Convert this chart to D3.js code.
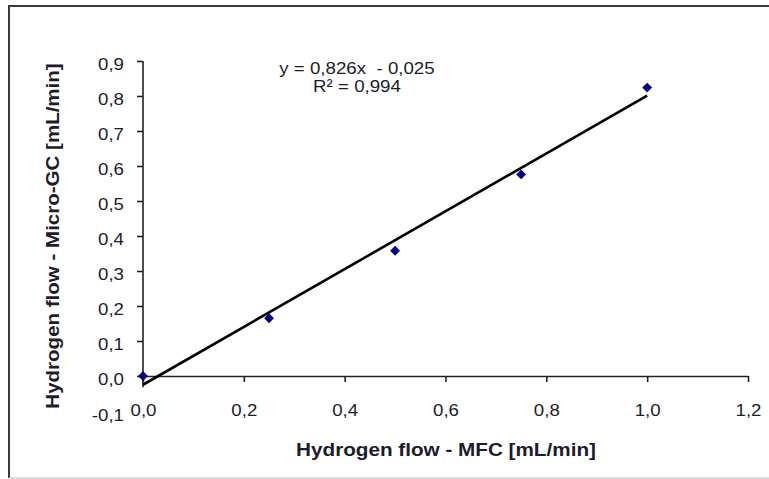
<!DOCTYPE html>
<html>
<head>
<meta charset="utf-8">
<script src="https://cdn.jsdelivr.net/npm/d3@7"></script>
<style>
  body { margin: 0; background: #fff; }
  svg { display: block; }
  text { font-family: Arial, "Liberation Sans", sans-serif; fill: #1c1c2c; }
</style>
</head>
<body>
<svg id="chart" width="769" height="479"></svg>
<script>
// Calibration data: hydrogen flow set on the MFC vs. flow measured by the Micro-GC
const flowMFC = [0, 0.25, 0.5, 0.75, 1.0];
const flowGC  = [0, 0.165, 0.358, 0.576, 0.824];

const xTickValues = [0, 0.2, 0.4, 0.6, 0.8, 1.0, 1.2];
const yTickValues = [-0.1, 0, 0.1, 0.2, 0.3, 0.4, 0.5, 0.6, 0.7, 0.8, 0.9];

// Linear trendline reported on the chart
const fitSlope = 0.826;
const fitIntercept = -0.025;
const fitR2 = 0.994;
const fitRange = [0, 1.0];

const xTitle = "Hydrogen flow - MFC [mL/min]";
const yTitle = "Hydrogen flow - Micro-GC [mL/min]";

// European number style: comma decimal, plain hyphen minus
const locale = d3.formatLocale({ decimal: ",", thousands: ".", grouping: [3], currency: ["", " €"], minus: "-" });
const fmt1 = locale.format(".1f");
const fmt3 = locale.format(".3f");

const svg = d3.select("#chart");

const x = d3.scaleLinear().domain([0, 1.2]).range([143, 748]);
const y = d3.scaleLinear().domain([-0.1, 0.9]).range([411, 61]);

// Chart-area frame
svg.append("path")
  .attr("d", "M9,478V6H775")
  .attr("fill", "none").attr("stroke", "#3a3a3a").attr("stroke-width", 2);
svg.append("line")
  .attr("x1", 9).attr("x2", 769).attr("y1", 478).attr("y2", 478)
  .attr("stroke", "#cfcfcf").attr("stroke-width", 1.5);

const axisColor = "#222";

// X axis, crossing at y = 0
const gx = svg.append("g").attr("transform", `translate(0,${y(0)})`)
  .call(d3.axisBottom(x).tickValues(xTickValues).tickSizeInner(6).tickSizeOuter(0).tickFormat(fmt1));
gx.select(".domain").attr("stroke", axisColor).attr("stroke-width", 1.6);
gx.selectAll(".tick line").attr("stroke", axisColor).attr("stroke-width", 1.6);
gx.selectAll(".tick text")
  .attr("x", 0).attr("y", 0).attr("dy", 0)
  .attr("transform", "translate(0,40) scale(1.1,1)")
  .style("font-size", "17px").attr("fill", "#1c1c2c");

// Y axis
const gy = svg.append("g").attr("transform", `translate(${x(0)},0)`)
  .call(d3.axisLeft(y).tickValues(yTickValues).tickSizeInner(6).tickSizeOuter(0).tickFormat(fmt1));
gy.select(".domain").remove();
gy.append("line")
  .attr("x1", 0).attr("x2", 0)
  .attr("y1", y(0.9)).attr("y2", y(-0.032))
  .attr("stroke", axisColor).attr("stroke-width", 1.6);
gy.selectAll(".tick line")
  .attr("stroke", axisColor).attr("stroke-width", 1.6)
  .attr("display", d => d < 0 ? "none" : null);
gy.selectAll(".tick text")
  .attr("x", 0).attr("y", 0).attr("dy", 0)
  .attr("transform", d => `translate(-19,${d < 0 ? 9 : 8.5}) scale(1.1,1)`)
  .style("font-size", "17px").attr("fill", "#1c1c2c");

// Trendline
svg.append("line")
  .attr("x1", x(fitRange[0])).attr("y1", y(fitSlope * fitRange[0] + fitIntercept))
  .attr("x2", x(fitRange[1])).attr("y2", y(fitSlope * fitRange[1] + fitIntercept))
  .attr("stroke", "#000").attr("stroke-width", 2.6);

// Data markers (diamonds)
const diamond = d3.symbol().type(d3.symbolDiamond2).size(62);
svg.append("g").selectAll("path")
  .data(flowMFC.map((v, i) => [v, flowGC[i]]))
  .join("path")
  .attr("d", diamond)
  .attr("transform", d => `translate(${x(d[0])},${y(d[1])})`)
  .attr("fill", "#000080");

// Trendline equation and R²
const eq = svg.append("g").attr("text-anchor", "middle").style("font-size", "17px");
const sign = fitIntercept < 0 ? "-" : "+";
eq.append("text")
  .attr("transform", "translate(357,74) scale(1.1,1)")
  .attr("xml:space", "preserve")
  .text(`y = ${fmt3(fitSlope)}x  ${sign} ${fmt3(Math.abs(fitIntercept))}`);
eq.append("text")
  .attr("transform", "translate(357,92) scale(1.1,1)")
  .text(`R² = ${fmt3(fitR2)}`);

// Axis titles
svg.append("text")
  .attr("text-anchor", "middle")
  .attr("transform", "translate(446,456) scale(1.15,1)")
  .style("font-size", "18px").style("font-weight", "bold")
  .attr("fill", "#111")
  .text(xTitle);
svg.append("text")
  .attr("text-anchor", "middle")
  .attr("transform", "translate(59,236) rotate(-90) scale(1.14,1)")
  .style("font-size", "18px").style("font-weight", "bold")
  .attr("fill", "#111")
  .text(yTitle);
</script>
</body>
</html>
